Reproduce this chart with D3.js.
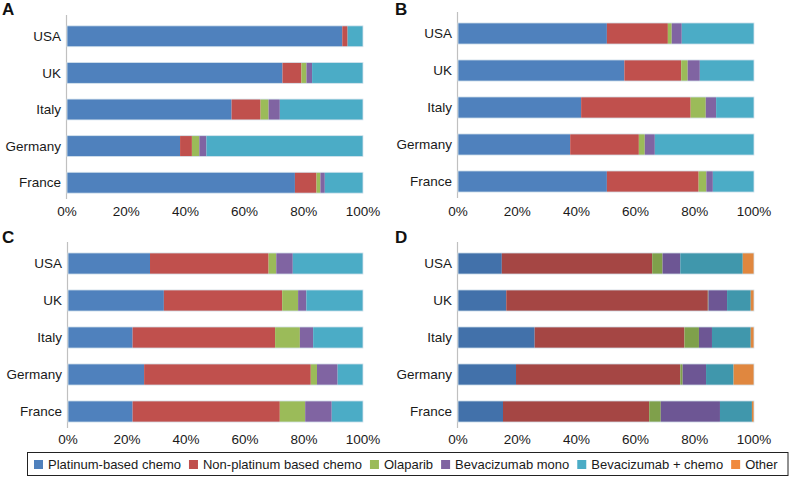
<!DOCTYPE html>
<html><head><meta charset="utf-8">
<script src="https://cdn.jsdelivr.net/npm/d3@7"></script>
<style>
html,body{margin:0;padding:0;background:#fff;}
svg{display:block;font-family:"Liberation Sans",Arial,sans-serif;}
</style></head>
<body>
<script>
const countries = ["USA","UK","Italy","Germany","France"];
const seriesNames = ["Platinum-based chemo","Non-platinum based chemo","Olaparib","Bevacizumab mono","Bevacizumab + chemo","Other"];
const tickLabels = [0,0.2,0.4,0.6,0.8,1];
// values per country in order: Platinum, Non-platinum, Olaparib, Bev mono, Bev+chemo, Other (%)
const panelA = [
  [93.0, 1.8, 0, 0, 5.2, 0],
  [72.8, 6.4, 1.7, 1.9, 17.2, 0],
  [55.6, 9.8, 2.7, 3.8, 28.1, 0],
  [38.2, 4.0, 2.5, 2.4, 52.9, 0],
  [77.0, 7.3, 1.3, 1.5, 12.9, 0]
];
const panelB = [
  [50.3, 20.6, 1.3, 3.4, 24.4, 0],
  [56.2, 19.2, 2.2, 4.1, 18.3, 0],
  [41.6, 37.0, 5.1, 3.5, 12.8, 0],
  [37.9, 23.2, 2.0, 3.4, 33.5, 0],
  [50.3, 31.0, 2.6, 2.2, 13.9, 0]
];
const panelC = [
  [27.8, 40.2, 2.6, 5.6, 23.8, 0],
  [32.5, 40.1, 5.4, 2.8, 19.2, 0],
  [21.9, 48.3, 8.4, 4.5, 16.9, 0],
  [25.8, 56.5, 2.1, 7.0, 8.6, 0],
  [21.9, 49.9, 8.6, 9.0, 10.6, 0]
];
const panelD = [
  [14.8, 50.8, 3.5, 6.0, 21.1, 3.8],
  [16.3, 68.1, 0.2, 6.3, 8.0, 1.1],
  [25.9, 50.6, 4.9, 4.4, 13.1, 1.1],
  [19.6, 55.5, 0.8, 7.9, 9.3, 6.9],
  [15.2, 49.4, 3.9, 20.0, 10.8, 0.7]
];
const colorsLight = ["#4f81bd","#c0504d","#9bbb59","#8064a2","#4bacc6","#f79646"];
const colorsDark  = ["#4271aa","#a54644","#7fa04b","#6d5694","#4097ac","#e0873f"];
const legendColors = ["#4f81bd","#c0504d","#9bbb59","#8064a2","#4bacc6","#f08a3e"];

const W = 790, H = 477;
const svg = d3.select("body").append("svg").attr("width", W).attr("height", H);

const panels = [
  {label:"A", data:panelA, colors:colorsLight, x0:67,  x1:363, y0:18,  y1:201, tickY:211, lx:2,   ly:15},
  {label:"B", data:panelB, colors:colorsLight, x0:458, x1:754, y0:15,  y1:200, tickY:211, lx:395, ly:15},
  {label:"C", data:panelC, colors:colorsLight, x0:68,  x1:363, y0:245, y1:430, tickY:439, lx:2,   ly:243},
  {label:"D", data:panelD, colors:colorsDark,  x0:458, x1:754, y0:245, y1:430, tickY:439, lx:395, ly:243}
];

panels.forEach(p => {
  const g = svg.append("g");
  const x = d3.scaleLinear().domain([0,1]).range([p.x0, p.x1]);
  const y = d3.scaleBand().domain(countries).range([p.y0, p.y1]).paddingInner(0.43).paddingOuter(0.215);

  const rows = countries.map((c,i) => {
    const o = {country:c};
    seriesNames.forEach((s,j) => o[s] = p.data[i][j]/100);
    return o;
  });
  const stacked = d3.stack().keys(seriesNames)(rows);

  g.append("line").attr("x1", p.x0 - 0.5).attr("x2", p.x0 - 0.5)
    .attr("y1", p.y0 - 3).attr("y2", p.y1 - 2)
    .attr("stroke", "#c0c0c0").attr("stroke-width", 1.2);

  stacked.forEach((layer, j) => {
    g.append("g").selectAll("rect").data(layer).join("rect")
      .attr("x", d => x(d[0]))
      .attr("width", d => Math.max(0, x(d[1]) - x(d[0])))
      .attr("y", d => y(d.data.country))
      .attr("height", y.bandwidth())
      .attr("fill", p.colors[j]);
  });
  g.append("g").selectAll("rect").data(countries).join("rect")
    .attr("x", x(0)).attr("width", x(1)-x(0))
    .attr("y", d => y(d)).attr("height", y.bandwidth())
    .attr("fill", "none").attr("stroke", "#d6e4ee").attr("stroke-width", 0.8);

  g.append("g").selectAll("text").data(countries).join("text")
    .attr("x", p.x0 - 6)
    .attr("y", d => y(d) + y.bandwidth()/2)
    .attr("dy", "0.35em")
    .attr("text-anchor", "end")
    .attr("font-size", "13.5px")
    .attr("fill", "#1a1a1a")
    .text(d => d);

  g.append("g").selectAll("text").data(tickLabels).join("text")
    .attr("x", d => x(d))
    .attr("y", p.tickY)
    .attr("dy", "0.35em")
    .attr("text-anchor", "middle")
    .attr("font-size", "13.5px")
    .attr("fill", "#1a1a1a")
    .text(d => d3.format(".0%")(d));

  g.append("text").attr("x", p.lx).attr("y", p.ly)
    .attr("font-size", "17px").attr("font-weight", "bold").attr("fill", "#111")
    .text(p.label);
});

const lg = svg.append("g");
lg.append("rect").attr("x", 27.5).attr("y", 452.5).attr("width", 760.5).attr("height", 23)
  .attr("fill", "#fff").attr("stroke", "#222").attr("stroke-width", 1);
let cx = 34;
seriesNames.forEach((s, i) => {
  lg.append("rect").attr("x", cx).attr("y", 460).attr("width", 9).attr("height", 9).attr("fill", legendColors[i]);
  const t = lg.append("text").attr("x", cx + 14).attr("y", 464.5).attr("dy", "0.35em")
    .attr("font-size", "13px").attr("fill", "#1a1a1a").text(s);
  cx = cx + 14 + t.node().getComputedTextLength() + 8;
});
</script>
</body></html>
